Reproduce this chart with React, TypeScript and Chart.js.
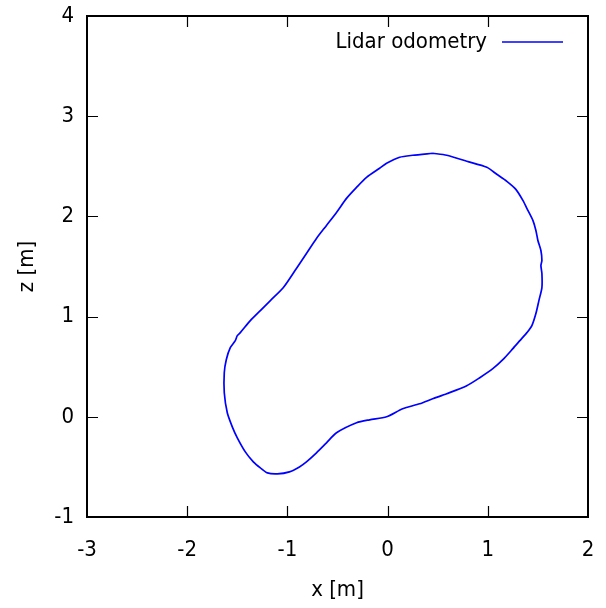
import React, { useEffect, useRef } from "react";
import { Chart, registerables } from "chart.js";

Chart.register(...registerables);

const seriesLabel = "Lidar odometry";
const xTitle = "x [m]";
const zTitle = "z [m]";

const xValues = [
  0.45, 0.59, 0.79, 0.99, 1.09, 1.19, 1.28, 1.35, 1.4, 1.45, 1.48, 1.5, 1.53, 1.54, 1.53, 1.54, 1.54, 1.51,
  1.48, 1.44, 1.39, 1.32, 1.25, 1.15, 1.05, 0.92, 0.79, 0.59, 0.45, 0.32, 0.15, -0.01, -0.18, -0.31, -0.51,
  -0.61, -0.71, -0.81, -0.88, -0.98, -1.1, -1.2, -1.27, -1.34, -1.42, -1.5, -1.55, -1.6, -1.63, -1.63, -1.61,
  -1.57, -1.52, -1.5, -1.47, -1.37, -1.27, -1.17, -1.04, -0.91, -0.81, -0.71, -0.61, -0.51, -0.41, -0.31,
  -0.21, -0.08, -0.01, 0.12, 0.25, 0.45,
];
const zValues = [
  2.63, 2.61, 2.55, 2.49, 2.42, 2.35, 2.27, 2.16, 2.06, 1.96, 1.86, 1.76, 1.66, 1.56, 1.51, 1.43, 1.29, 1.16,
  1.03, 0.91, 0.84, 0.76, 0.68, 0.57, 0.48, 0.39, 0.31, 0.23, 0.18, 0.13, 0.08, 0.0, -0.03, -0.06, -0.16,
  -0.26, -0.36, -0.45, -0.5, -0.55, -0.57, -0.56, -0.51, -0.45, -0.35, -0.21, -0.1, 0.04, 0.24, 0.44, 0.57,
  0.69, 0.76, 0.81, 0.84, 0.96, 1.06, 1.16, 1.29, 1.48, 1.63, 1.78, 1.91, 2.04, 2.18, 2.29,
  2.39, 2.48, 2.53, 2.59, 2.61, 2.63,
];
const xTicks = [-3, -2, -1, 0, 1, 2];
const zTicks = [-1, 0, 1, 2, 3, 4];

const FONT_FAMILY = "'DejaVu Sans Condensed', 'DejaVu Sans', sans-serif";
const FONT_SIZE = 22;
const LINE_COLOR = "#0000ff";

const framePlugin = {
  id: "gnuplotFrame",
  afterDatasetsDraw(chart: any) {
    const { ctx, chartArea, scales } = chart;
    const { left, right, top, bottom } = chartArea;
    const tickLen = 11;
    ctx.save();
    ctx.strokeStyle = "#000";
    ctx.lineWidth = 1.2;
    ctx.beginPath();
    xTicks.forEach((v) => {
      const px = Math.round(scales.x.getPixelForValue(v)) + 0.5;
      if (px > left + 2 && px < right - 2) {
        ctx.moveTo(px, bottom);
        ctx.lineTo(px, bottom - tickLen);
        ctx.moveTo(px, top);
        ctx.lineTo(px, top + tickLen);
      }
    });
    zTicks.forEach((v) => {
      const py = Math.round(scales.y.getPixelForValue(v)) + 0.5;
      if (py > top + 2 && py < bottom - 2) {
        ctx.moveTo(left, py);
        ctx.lineTo(left + tickLen, py);
        ctx.moveTo(right, py);
        ctx.lineTo(right - tickLen, py);
      }
    });
    ctx.stroke();
    ctx.lineWidth = 2;
    ctx.strokeRect(left, top, right - left, bottom - top);

    // key (legend) inside the plot, top right
    const ds = chart.data.datasets[0];
    const keyY = top + 26;
    const lineEnd = right - 25;
    const lineStart = lineEnd - 61;
    ctx.strokeStyle = ds.borderColor;
    ctx.lineWidth = 1.6;
    ctx.beginPath();
    ctx.moveTo(lineStart, keyY);
    ctx.lineTo(lineEnd, keyY);
    ctx.stroke();
    ctx.fillStyle = "#000";
    ctx.font = `${FONT_SIZE}px ${FONT_FAMILY}`;
    ctx.textAlign = "right";
    ctx.textBaseline = "middle";
    ctx.fillText(ds.label, lineStart - 15, keyY);
    ctx.restore();
  },
};

export default function App() {
  const canvasRef = useRef<HTMLCanvasElement | null>(null);

  useEffect(() => {
    if (!canvasRef.current) return;
    const points = xValues.map((x, i) => ({ x, y: zValues[i] }));
    const font = { family: FONT_FAMILY, size: FONT_SIZE, lineHeight: 1.2 };
    const chart = new Chart(canvasRef.current, {
      type: "scatter",
      data: {
        datasets: [
          {
            label: seriesLabel,
            data: points,
            showLine: true,
            borderColor: LINE_COLOR,
            backgroundColor: LINE_COLOR,
            borderWidth: 1.7,
            pointRadius: 0,
            tension: 0.25,
            fill: false,
          },
        ],
      },
      options: {
        responsive: false,
        animation: false,
        devicePixelRatio: 1,
        layout: { padding: { top: 16, right: 18, left: 0, bottom: 0 } },
        plugins: {
          legend: { display: false },
          tooltip: { enabled: false },
        },
        scales: {
          x: {
            type: "linear",
            min: -3,
            max: 2,
            afterBuildTicks: (s: any) => {
              s.ticks = xTicks.map((v) => ({ value: v }));
            },
            afterFit: (s: any) => {
              s.height = 91;
            },
            grid: { display: false, drawTicks: true, tickLength: 18 },
            border: { display: false },
            ticks: { font, color: "#000", padding: 2, autoSkip: false, maxRotation: 0 },
            title: { display: true, text: xTitle, font, color: "#000", padding: { top: 0, bottom: 5 } },
          },
          y: {
            type: "linear",
            min: -1,
            max: 4,
            afterBuildTicks: (s: any) => {
              s.ticks = zTicks.map((v) => ({ value: v }));
            },
            afterFit: (s: any) => {
              s.width = 87;
            },
            grid: { display: false, drawTicks: true, tickLength: 11 },
            border: { display: false },
            ticks: { font, color: "#000", padding: 2, autoSkip: false },
            title: { display: true, text: zTitle, font, color: "#000", padding: { top: 14, bottom: 0 } },
          },
        },
      },
      plugins: [framePlugin],
    });
    return () => chart.destroy();
  }, []);

  return (
    <div style={{ position: "absolute", left: 0, top: 0, width: 606, height: 608, background: "#fff" }}>
      <canvas ref={canvasRef} width={606} height={608} style={{ display: "block" }} />
    </div>
  );
}
